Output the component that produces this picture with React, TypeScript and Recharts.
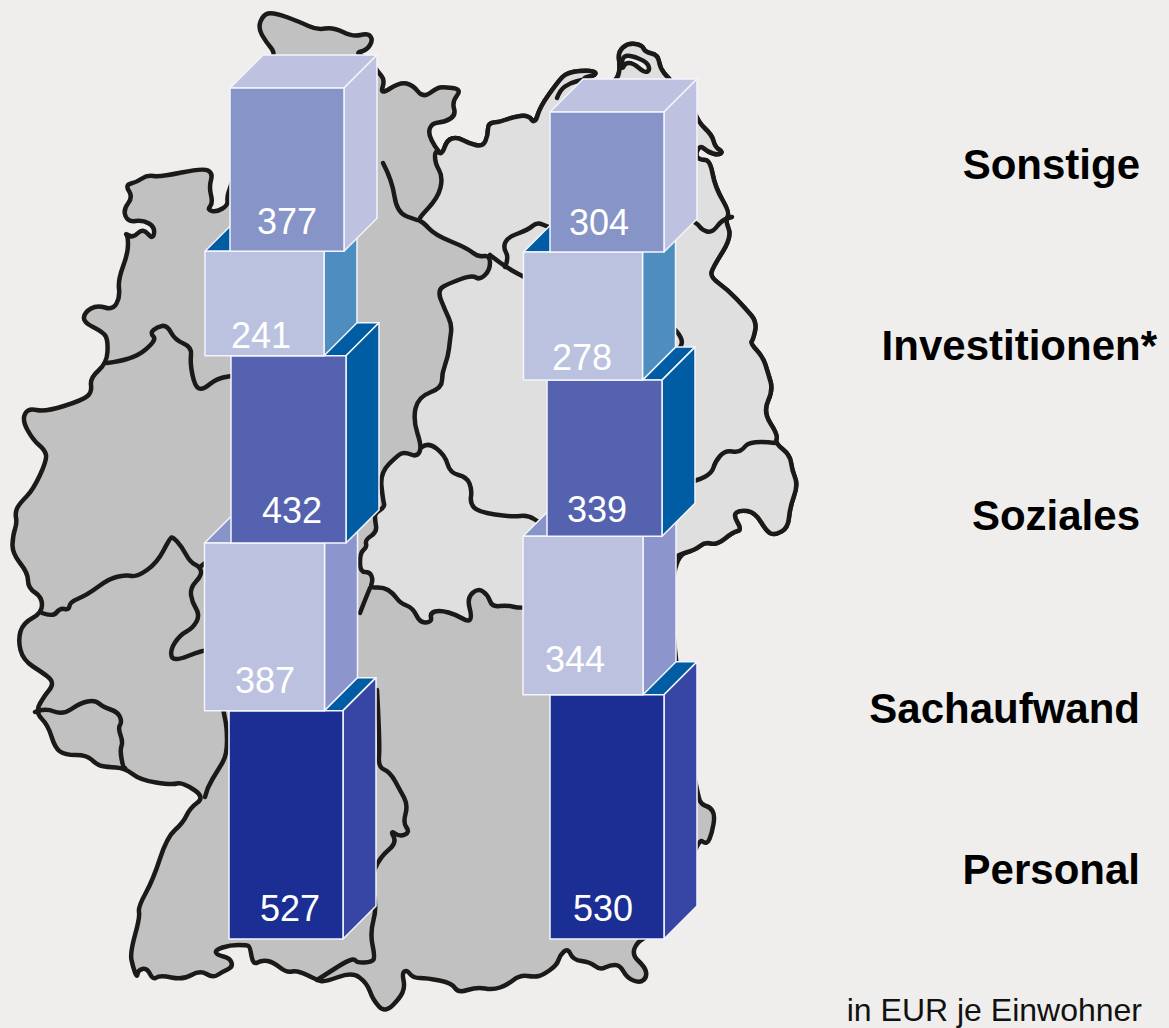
import React from 'react';
import { BarChart, Bar, XAxis, YAxis } from 'recharts';

// stacked bottom to top
const seriesNames = ['Personal', 'Sachaufwand', 'Soziales', 'Investitionen*', 'Sonstige'];
const westValues = [527, 387, 432, 241, 377];
const eastValues = [530, 344, 339, 278, 304];

const WIDTH = 1169;
const HEIGHT = 1028;
const BASELINE = 939;
const DEPTH = 33;
const FONT = '"Liberation Sans", Arial, sans-serif';

const boxStyles: Record<string, { front: string; side: string; top: string; w: number }> = {
  Personal: { front: '#1b2e94', side: '#3746a4', top: '#005da3', w: 114 },
  Sachaufwand: { front: '#bdc1e0', side: '#8d96cc', top: '#8794c8', w: 120 },
  Soziales: { front: '#5462b0', side: '#005da3', top: '#005da3', w: 115 },
  'Investitionen*': { front: '#bac2df', side: '#4e8dbf', top: '#005ca3', w: 119 },
  Sonstige: { front: '#8794c8', side: '#bec2e0', top: '#bec2e0', w: 114 },
};

// x offset of the box, x offset of its number, number height above box bottom
const westLayout: Record<string, number[]> = {
  Personal: [0, 4, 18],
  Sachaufwand: [-21.5, -21, 18],
  Soziales: [2.5, 6, 20],
  'Investitionen*': [-21.5, -25, 8],
  Sonstige: [1, 1, 17],
};
const eastLayout: Record<string, number[]> = {
  Personal: [0, -4, 18],
  Sachaufwand: [-24, -32, 23],
  Soziales: [-2.5, -10, 14],
  'Investitionen*': [-24, -25, 10],
  Sonstige: [0, -8, 17],
};

const sideLabels = [
  { name: 'Sonstige', x: 1140, y: 179 },
  { name: 'Investitionen*', x: 1157, y: 360 },
  { name: 'Soziales', x: 1140, y: 530 },
  { name: 'Sachaufwand', x: 1140, y: 723 },
  { name: 'Personal', x: 1140, y: 884 },
];

// Background map, traced by hand
const northWest =
  '277,55 266,42 258,28 263,15 273,12 300,22 317,30 333,27 353,37 368,33 373,40 367,50 355,53 370,60 378,72 385,80 380,95 400,82 413,85 423,98 437,88 443,87 462,89 452,102 456,115 445,122 432,123 428,133 435,147 442,155';
const northEast =
  '442,155 447,140 457,137 468,143 483,147 488,135 488,123 500,122 513,117 528,115 535,124 540,107 557,83 567,72 593,70 597,75 580,78 590,100 610,85 618,78 620,67 618,52 628,43 642,45 645,52 658,55 660,68 668,78 690,100 698,122 712,135 715,147 723,152 718,155 708,152 700,145 695,155 700,160 710,160 715,187 730,213 725,220 732,237 713,267 710,277 728,290 745,308 757,322 753,340 750,343 763,357 768,373 773,390 763,412 778,435 775,443 790,455 792,470 798,485 790,507 788,528 775,535 767,532 755,512 740,510 733,515 742,530 733,532 717,545 705,542 695,550 677,555';
const south =
  '670,600 680,700 698,797 702,805 710,807 715,815 712,833 707,845 698,838 680,900 650,935 637,942 632,955 645,967 647,977 640,983 627,978 620,965 610,965 600,970 590,962 573,960 568,948 560,955 557,965 543,975 535,977 520,975 507,985 493,990 477,987 458,993 452,983 427,978 413,978 407,970 402,973 405,987 400,998 385,1013 373,1000 367,983 352,972 325,982 317,980 297,970 287,973 273,962 262,960 253,965 250,947 247,945 230,945 215,950 217,955 230,958 233,967 222,972 213,978 200,970 183,980 160,975 153,980 147,968 138,970 137,978 133,967 130,953 140,917 138,907 153,880 167,837 183,823 190,808 205,797 182,782 172,785 140,780 125,768 107,767 97,765 87,755 65,755 55,748 48,725 35,712 45,695 52,687 52,680 43,673 23,660 18,640 23,623 42,613';
const west =
  '42,597 28,588 28,573 12,553 13,535 17,523 15,512 20,503 33,490 47,460 45,450 33,440 22,420 28,408 45,412 83,400 92,392 90,378 107,363 108,340 103,332 83,322 85,312 97,305 113,310 120,297 118,280 128,253 128,237 125,233 133,238 143,228 153,240 155,227 143,220 128,222 123,210 133,197 125,185 137,182 147,175 160,177 203,168 213,173 209,187 213,203 207,210 217,212 228,205 227,197 230,188 260,100';
const lightEdge =
  '600,600 522,609 507,605 492,607 488,595 478,588 467,598 472,617 468,622 457,615 440,610 430,613 432,622 420,623 413,608 400,603 393,593 383,587 370,588 373,580 370,572 360,572 360,553 367,547 365,540 377,532 375,520 375,513 385,507 383,500 380,473 398,455 405,452 417,457 422,447 413,420 418,397 442,388 442,373 448,357 450,340 452,325 445,310 437,290 450,283 472,275 480,280 490,270 490,255 478,257 467,248 435,235 423,222 417,220 438,198 443,177 435,163 435,150';
const lagoon = '622,57 630,55 647,62 650,70 645,73 633,63 625,63 622,70';
const borders = [
  '383,163 392,180 397,213 417,220',
  '107,363 133,360 157,340 150,333 157,327 167,325 175,340 192,347 190,363 195,387 203,390 217,378 240,375',
  '42,613 53,617 60,608 69,610 70,602 87,595 110,578 127,575 137,577 157,563 170,538 173,537 182,547 190,562 200,567 202,575 190,588 192,602 200,615 193,628 180,635 170,650 173,662 203,650 215,650',
  '200,567 215,555',
  '205,797 207,788 218,770 227,755 227,727 223,710 215,650',
  '35,712 45,708 63,715 80,703 95,700 103,707 118,712 122,722 118,728 123,742 120,750 123,767 125,768',
  '377,690 380,745 378,767 390,772 400,790 408,805 403,823 410,832 400,837 390,830 397,843 380,857 370,880 377,907 370,933 375,957 372,962 357,963 353,957 317,980',
  '422,447 428,442 445,455 450,473 467,477 472,490 470,503 478,512 512,517 528,515 540,523 560,530',
  '490,255 505,267 530,280',
  '505,267 509,258 503,247 508,237 528,230 537,222 548,227 560,230',
  '690,220 697,223 702,230 712,233 722,220 732,217',
  '670,325 685,338 677,353',
  '775,443 750,440 740,453 725,450 715,462 712,473 697,481 670,485',
  '557,98 560,90 570,83 582,80',
  '370,588 365,600 360,613',
];

// rounds the corners of a traced line so it reads like the drawn border
function smoothPath(points: string, closed: boolean) {
  const pts = points.split(' ').map((p) => p.split(',').map(Number));
  const mid = (a: number[], b: number[]) => `${(a[0] + b[0]) / 2},${(a[1] + b[1]) / 2}`;
  const last = pts.length - 1;
  if (closed) {
    let d = `M${mid(pts[last], pts[0])}`;
    pts.forEach((p, i) => {
      d += ` Q${p[0]},${p[1]} ${mid(p, pts[i === last ? 0 : i + 1])}`;
    });
    return d + ' Z';
  }
  let d = `M${pts[0][0]},${pts[0][1]}`;
  for (let i = 1; i < last; i++) {
    d += ` Q${pts[i][0]},${pts[i][1]} ${mid(pts[i], pts[i + 1])}`;
  }
  return d + ` L${pts[last][0]},${pts[last][1]}`;
}

function GermanyMap() {
  const line = { stroke: '#1c1a18', strokeWidth: 4.5, strokeLinejoin: 'round' as const, strokeLinecap: 'round' as const };
  return (
    <svg width={WIDTH} height={HEIGHT} style={{ position: 'absolute', left: 0, top: 0 }}>
      <path d={smoothPath([northWest, northEast, south, west].join(' '), true)} fill="#c1c1c1" {...line} />
      <path d={smoothPath([northEast, lightEdge].join(' '), true)} fill="#dfdfdf" {...line} />
      <path d={smoothPath(lagoon, true)} fill="#efeeec" {...line} />
      {borders.map((points) => (
        <path key={points} d={smoothPath(points, false)} fill="none" {...line} />
      ))}
    </svg>
  );
}

function Box(props: any) {
  const { x, y, width, height, name, value, layout } = props;
  const style = boxStyles[name];
  const [boxDx, textDx, textUp] = layout[name];
  const left = x + width / 2 + boxDx - style.w / 2;
  const right = left + style.w;
  const bottom = y + height;
  const edge = { stroke: '#f4f5fb', strokeWidth: 1.5, strokeLinejoin: 'round' as const };
  return (
    <g>
      <polygon
        points={`${left},${y} ${left + DEPTH},${y - DEPTH} ${right + DEPTH},${y - DEPTH} ${right},${y}`}
        fill={style.top}
        {...edge}
      />
      <polygon
        points={`${right},${y} ${right + DEPTH},${y - DEPTH} ${right + DEPTH},${bottom - DEPTH} ${right},${bottom}`}
        fill={style.side}
        {...edge}
      />
      <rect x={left} y={y} width={style.w} height={height} fill={style.front} {...edge} />
      <text
        x={x + width / 2 + textDx}
        y={bottom - textUp}
        textAnchor="middle"
        fontFamily={FONT}
        fontSize={36}
        fill="#ffffff"
      >
        {value}
      </text>
    </g>
  );
}

function Column({ values, center, axisMax, layout }: any) {
  const row: Record<string, number | string> = { column: String(center) };
  seriesNames.forEach((name, i) => {
    row[name] = values[i];
  });
  return (
    <div style={{ position: 'absolute', left: center - 200, top: 0 }}>
      <BarChart
        width={400}
        height={HEIGHT}
        data={[row]}
        margin={{ top: 0, right: 0, bottom: HEIGHT - BASELINE, left: 0 }}
        style={{ overflow: 'visible' }}
      >
        <XAxis dataKey="column" hide />
        <YAxis hide domain={[0, axisMax]} />
        {seriesNames.map((name, i) => (
          <Bar
            key={name}
            dataKey={name}
            stackId="total"
            barSize={114}
            isAnimationActive={false}
            shape={(p: any) => (
              <Box x={p.x} y={p.y} width={p.width} height={p.height} name={name} value={values[i]} layout={layout} />
            )}
          />
        ))}
      </BarChart>
    </div>
  );
}

export default function App() {
  return (
    <div
      style={{
        position: 'absolute',
        left: 0,
        top: 0,
        width: WIDTH,
        height: HEIGHT,
        background: '#efeeec',
        overflow: 'hidden',
      }}
    >
      <GermanyMap />
      <Column values={westValues} center={286} axisMax={2167} layout={westLayout} />
      <Column values={eastValues} center={607} axisMax={2038} layout={eastLayout} />
      <svg width={WIDTH} height={HEIGHT} style={{ position: 'absolute', left: 0, top: 0 }}>
        {sideLabels.map((label) => (
          <text
            key={label.name}
            x={label.x}
            y={label.y}
            textAnchor="end"
            fontFamily={FONT}
            fontWeight="bold"
            fontSize={42}
            fill="#000000"
          >
            {label.name}
          </text>
        ))}
        <text x={1142} y={1021} textAnchor="end" fontFamily={FONT} fontSize={32} fill="#111111">
          in EUR je Einwohner
        </text>
      </svg>
    </div>
  );
}
